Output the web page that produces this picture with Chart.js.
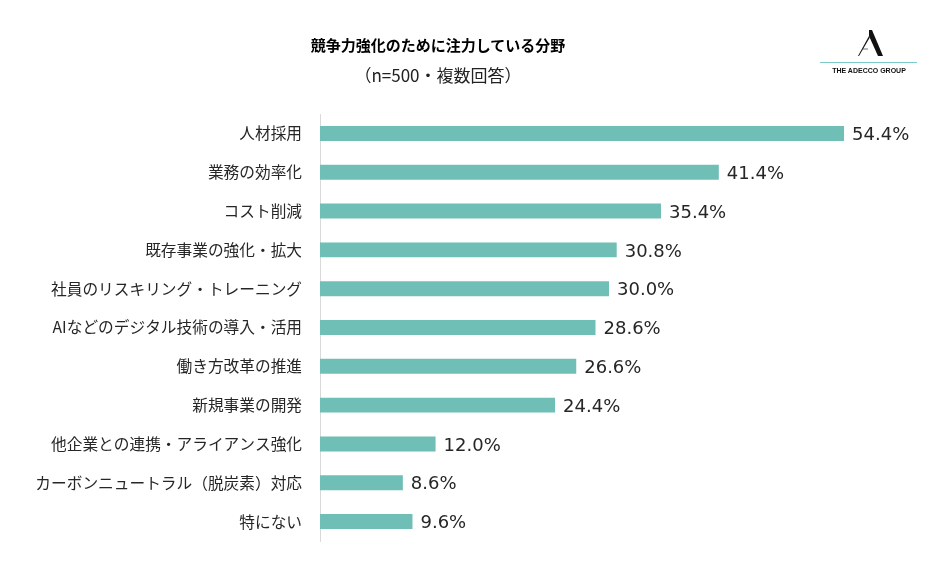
<!DOCTYPE html>
<html lang="ja">
<head>
<meta charset="utf-8">
<title>競争力強化のために注力している分野</title>
<script src="https://cdn.jsdelivr.net/npm/chart.js@4/dist/chart.umd.min.js"></script>
<style>
    html, body { margin: 0; padding: 0; background: #fff; }
    #wrap { position: relative; width: 948px; height: 575px; }
    #chart { position: absolute; left: 0; top: 0; }
    .title { position: absolute; left: 238px; width: 400px; text-align: center; color: #000;
             font-family: "Noto Sans CJK JP", "Noto Sans", sans-serif; }
    #t1 { top: 34px; font-size: 15px; font-weight: bold; }
    #t2 { top: 62px; font-size: 17px; color: #222; }
    #logo { position: absolute; left: 815px; top: 28px; width: 110px; height: 60px; }
    #logo .line { position: absolute; left: 5px; top: 34px; width: 97px; height: 1px; background: #7ccaca; }
    #logo .name { position: absolute; left: 0; top: 39px; width: 108px; text-align: center;
                  font-family: "Liberation Sans", Arial, sans-serif; font-size: 7px; font-weight: bold; color: #111; }
</style>
</head>
<body>
<div id="wrap">
    <canvas id="chart" width="948" height="575"></canvas>
    <div class="title" id="t1">競争力強化のために注力している分野</div>
    <div class="title" id="t2">（n=500・複数回答）</div>
    <div id="logo">
        <svg width="110" height="32" style="position:absolute;left:0;top:0">
            <polygon points="54,2 57,2 68,28 63,28 54,8" fill="#111"/>
            <polygon points="54,8 54.8,9.5 44,28 43,28" fill="#111"/>
            <line x1="48" y1="21" x2="53" y2="21" stroke="#111" stroke-width="0.6"/>
        </svg>
        <div class="line"></div>
        <div class="name">THE ADECCO GROUP</div>
    </div>
</div>
<script>
// Data
const categories = [
    '人材採用',
    '業務の効率化',
    'コスト削減',
    '既存事業の強化・拡大',
    '社員のリスキリング・トレーニング',
    'AIなどのデジタル技術の導入・活用',
    '働き方改革の推進',
    '新規事業の開発',
    '他企業との連携・アライアンス強化',
    'カーボンニュートラル（脱炭素）対応',
    '特にない'
];
const percentValues = [54.4, 41.4, 35.4, 30.8, 30.0, 28.6, 26.6, 24.4, 12.0, 8.6, 9.6];

// value labels at bar end (no datalabels plugin available offline)
const valueLabels = {
    id: 'valueLabels',
    afterDatasetsDraw(chart) {
        const ctx = chart.ctx;
        const meta = chart.getDatasetMeta(0);
        ctx.save();
        ctx.font = '18px "DejaVu Sans", Verdana, sans-serif';
        ctx.fillStyle = '#262626';
        ctx.textAlign = 'left';
        ctx.textBaseline = 'middle';
        meta.data.forEach((bar, i) => {
            ctx.fillText(percentValues[i].toFixed(1) + '%', bar.x + 8, bar.y + 2);
        });
        ctx.restore();
    }
};

const chart = new Chart(document.getElementById('chart'), {
    type: 'bar',
    data: {
        labels: categories,
        datasets: [{
            data: percentValues,
            backgroundColor: '#70bfb6',
            borderWidth: 0,
            barPercentage: 0.55,
            categoryPercentage: 0.7
        }]
    },
    options: {
        indexAxis: 'y',
        responsive: false,
        animation: false,
        devicePixelRatio: 1,
        layout: { padding: { top: 114, bottom: 34, right: 50, left: 0 } },
        plugins: {
            legend: { display: false },
            tooltip: { enabled: false }
        },
        scales: {
            x: {
                min: 0,
                max: 60,
                display: false
            },
            y: {
                grid: { display: false },
                border: { display: true, color: '#d9d9d9', width: 1 },
                ticks: {
                    color: '#262626',
                    padding: 10,
                    font: { family: '"Noto Sans CJK JP", sans-serif', size: 15.7 }
                },
                afterFit(scale) { scale.width = 320; }
            }
        }
    },
    plugins: [valueLabels]
});
</script>
</body>
</html>
